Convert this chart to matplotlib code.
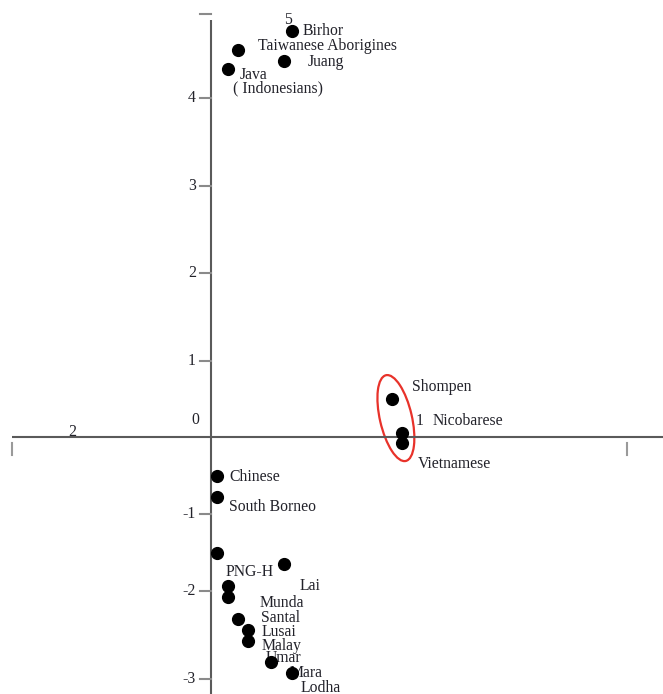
import numpy as np
import matplotlib
matplotlib.use("Agg")
import matplotlib.pyplot as plt
from matplotlib.patches import Ellipse
from matplotlib.transforms import ScaledTranslation

plt.rcParams["font.family"] = ["Liberation Serif", "DejaVu Serif"]

# populations and their coordinates
names = ["Birhor", "Taiwanese Aborigines", "Juang", "Java",
         "Shompen", "Nicobarese", "Vietnamese",
         "Chinese", "South Borneo", "", "Lai", "PNG-H", "Munda",
         "Santal", "Lusai", "Malay", "Umar", "Mara", "Lodha"]
x_vals = [0.39, 0.13, 0.35, 0.08,
          0.87, 0.92, 0.92,
          0.03, 0.03, 0.03, 0.35, 0.08, 0.08,
          0.13, 0.18, 0.18, 0.29, 0.39, 0.48]
y_vals = [4.80, 4.57, 4.44, 4.35,
          0.50, 0.05, -0.08,
          -0.51, -0.78, -1.51, -1.65, -1.94, -2.07,
          -2.32, -2.44, -2.57, -2.81, -2.93, -3.26]
# label offsets in pixels
label_dx = [10, 20, 24, 12, 20, 30, 15, 12, 12, 0, 16, -2, 32, 23, 13, 13, -6, -3, -10]
label_dy = [0, 4, -1, -6, 12, 12, -21, -1, -10, 0, -22, 14, -6, 1, -2, -5, 4, 0, 14]

y_ticks = [-3, -2, -1, 1, 2, 3, 4, 5]
x_ticks = [-1, 2]

# the scanned axes are not evenly spaced, so map through the tick positions
yv = np.array([-3.5, -3, -2, -1, 0, 1, 2, 3, 4, 5, 5.5])
yp = np.array([723, 679, 591, 514, 437, 361, 273, 186, 98, 14, -28], dtype=float)
xv = np.array([-1.5, -1, 0, 1, 2, 2.5])
xp = np.array([-87, 12, 211, 419, 627, 731], dtype=float)


def y_fwd(v):
    return -np.interp(v, yv, yp)


def y_inv(p):
    return np.interp(p, -yp, yv)


def x_fwd(v):
    return np.interp(v, xv, xp)


def x_inv(p):
    return np.interp(p, xp, xv)


fig = plt.figure(figsize=(6.63, 6.94), dpi=100)
ax = fig.add_axes([0, 0, 1, 1])
ax.set_xscale("function", functions=(x_fwd, x_inv))
ax.set_yscale("function", functions=(y_fwd, y_inv))
ax.set_xlim(x_inv(0), x_inv(663))
ax.set_ylim(y_inv(-694), y_inv(0))
ax.axis("off")

axis_col = "#5a5a5a"
text_col = "#22222a"
fs = 11.3

# axes through the origin
ax.plot([-1, x_inv(663)], [0, 0], color=axis_col, lw=1.5, solid_capstyle="butt")
ax.plot([0, 0], [y_inv(-20), y_inv(-694)], color=axis_col, lw=1.5, solid_capstyle="butt")

# y ticks to the left of the axis
for t in y_ticks:
    ax.plot([x_inv(200), 0], [t, t], color="#8a8a8a", lw=1.5)
    if t != 5:
        ax.annotate(str(t), (0, t), xytext=(-15, 0), textcoords="offset pixels",
                    ha="right", va="center", fontsize=fs, color=text_col)
ax.annotate("5", (0, 5), xytext=(77, -6), textcoords="offset pixels",
            ha="center", va="center", fontsize=fs, color=text_col)
ax.annotate("0", (0, 0), xytext=(-16, 17), textcoords="offset pixels",
            ha="center", va="center", fontsize=fs, color=text_col)

# x ticks below the axis
for t in x_ticks:
    ax.plot([t, t], [y_inv(-443), y_inv(-455)], color="#9a9a9a", lw=1.5)
ax.annotate("1", (1, 0), xytext=(1, 16), textcoords="offset pixels",
            ha="center", va="center", fontsize=fs, color=text_col)
ax.annotate("2", (-1, 0), xytext=(60, 5), textcoords="offset pixels",
            ha="center", va="center", fontsize=fs, color=text_col)

ax.scatter(x_vals, y_vals, s=72, color="black", zorder=3, clip_on=True)

for name, x, y, dx, dy in zip(names, x_vals, y_vals, label_dx, label_dy):
    if name:
        ax.annotate(name, (x, y), xytext=(dx, dy), textcoords="offset pixels",
                    ha="left", va="center", fontsize=fs, color=text_col,
                    annotation_clip=False, zorder=2)
ax.annotate("( Indonesians)", (x_vals[3], y_vals[3]), xytext=(5, -20),
            textcoords="offset pixels", ha="left", va="center",
            fontsize=fs, color=text_col)

# red loop around the three circled populations
cx = np.mean(x_vals[4:7])
cy = np.mean(y_vals[4:7])
loop = Ellipse((-0.03, 0.07), 0.32, 0.88, angle=13, fill=False, ec="#e8322a", lw=1.6,
               transform=fig.dpi_scale_trans + ScaledTranslation(cx, cy, ax.transData))
ax.add_patch(loop)

fig.savefig("out.png", dpi=100)
